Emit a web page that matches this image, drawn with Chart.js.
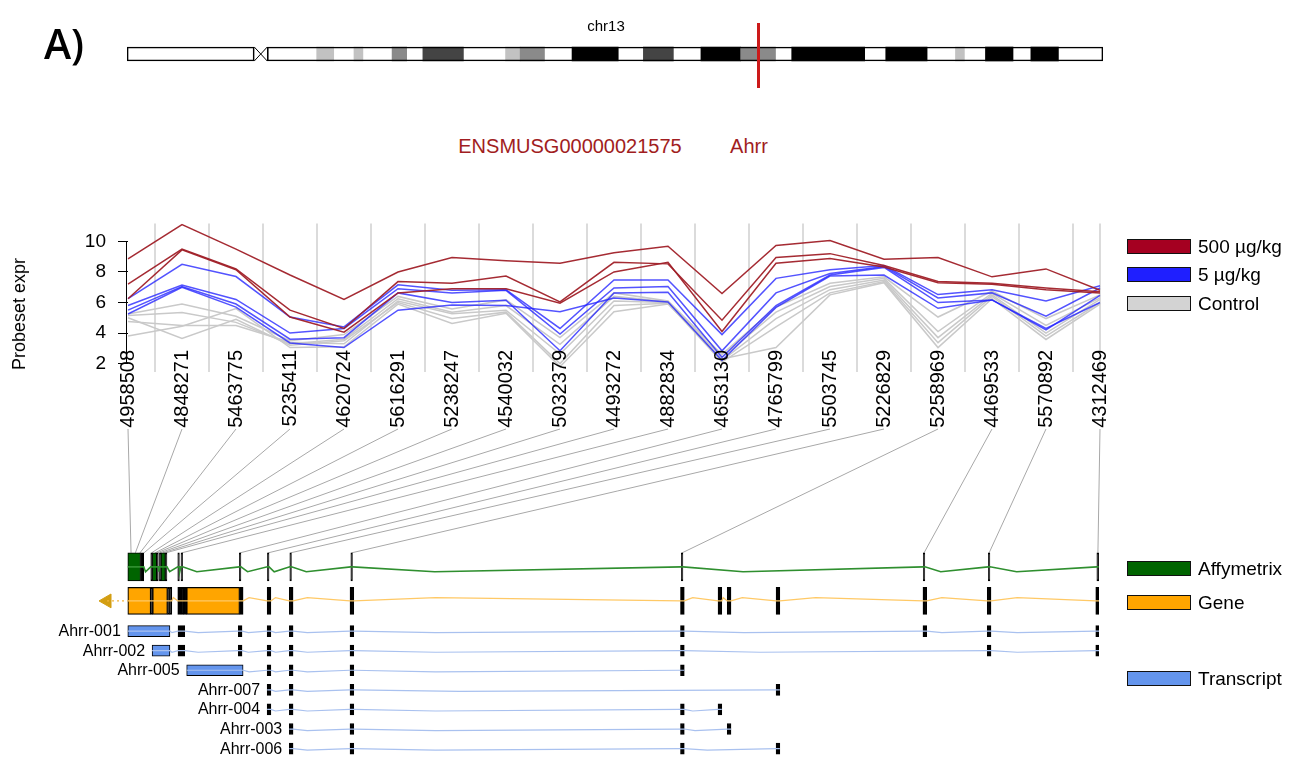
<!DOCTYPE html>
<html>
<head>
<meta charset="utf-8">
<title>Ahrr probeset expression</title>
<script src="https://cdn.jsdelivr.net/npm/chart.js@4.4.1/dist/chart.umd.min.js"></script>
<style>
  html, body { margin:0; padding:0; background:#fff; }
  body { position:relative; width:1304px; height:768px; overflow:hidden;
         font-family:'Liberation Sans', Arial, Helvetica, sans-serif; color:#000; }
  canvas { position:absolute; left:0; }
  .txt { position:absolute; white-space:nowrap; line-height:1; }
  .mid { transform:translate(-50%,-50%); }
  .key { position:absolute; left:1127px; display:flex; align-items:center; font-size:19px; line-height:19px; white-space:nowrap; }
  .key i { display:block; width:62px; height:13px; border:1px solid #111; margin-right:7px; }
  .tx { position:absolute; font-size:16px; line-height:1; white-space:nowrap; transform:translate(-100%,-50%); }
</style>
</head>
<body>
<canvas id="ideo" width="1304" height="100" style="top:0"></canvas>
<canvas id="expr" width="1304" height="240" style="top:200px"></canvas>
<canvas id="tracks" width="1304" height="342" style="top:426px"></canvas>

<div class="txt" style="left:44px;top:15px;font:600 41px 'Open Sans',sans-serif">A)</div>
<div class="txt mid" style="left:606px;top:25px;font-size:15px">chr13</div>
<div class="txt mid" style="left:570px;top:146px;font-size:20px;color:#a11d21">ENSMUSG00000021575</div>
<div class="txt mid" style="left:749px;top:146px;font-size:20px;color:#a11d21">Ahrr</div>
<div class="txt" style="left:19px;top:314px;font-size:18px;transform:translate(-50%,-50%) rotate(-90deg)">Probeset expr</div>

<div class="key" style="top:237px"><i style="background:#a50021"></i>500 µg/kg</div>
<div class="key" style="top:265px"><i style="background:#1f1fff"></i>5 µg/kg</div>
<div class="key" style="top:294px"><i style="background:#d3d3d3"></i>Control</div>
<div class="key" style="top:559px"><i style="background:#006400"></i>Affymetrix</div>
<div class="key" style="top:593px"><i style="background:#ffa500"></i>Gene</div>
<div class="key" style="top:669px"><i style="background:#6495ed"></i>Transcript</div>

<script>
const FONT = "'Liberation Sans', Arial, Helvetica, sans-serif";

/* ────────────────────────────────────────
   DATA
──────────────────────────────────────── */
// chromosome 13 ideogram, Mb
const chrLengthMb = 120.4;
const chrArmsMb   = [[0, 15.7], [17.3, 120.4]];
const chrBandsMb  = [[23.4,25.5],[28.0,29.1],[32.7,34.5],[36.5,41.5],[46.7,48.5],[48.5,51.5],
                     [54.9,60.6],[63.7,67.4],[70.8,75.7],[75.7,80.0],[82.0,91.0],[93.6,98.7],
                     [102.2,103.3],[105.9,109.3],[111.5,114.9]];
const chrBandStain = ['gpos25','gpos25','gpos50','gpos75','gpos25','gpos50',
                      'gpos100','gpos75','gpos100','gpos50','gpos100','gpos100',
                      'gpos25','gpos100','gpos100'];
const ahrrMb = 77.9;

// probesets along the gene
const probesetIds = ['4958508','4848271','5463775','5235411','4620724','5616291','5238247',
                     '4540032','5032379','4493272','4882834','4653130','4765799','5503745',
                     '5226829','5258969','4469533','5570892','4312469'];
const yTicks = [2, 4, 6, 8, 10];

// 500 µg/kg
const red1 = [8.85,11.1,9.5,7.8,6.2,8.0,8.95,8.74,8.57,9.26,9.68,6.59,9.73,10.06,8.84,8.95,7.68,8.2,6.8];
const red2 = [7.2,9.5,8.2,5.5,4.3,7.37,7.26,7.73,6.04,8.63,8.53,4.84,8.95,9.2,8.42,7.37,7.26,6.95,6.7];
const red3 = [6.25,9.45,8.15,5.05,4.06,6.63,6.9,6.9,5.96,8.0,8.63,4.1,8.57,8.88,8.32,7.3,7.2,6.84,6.63];
// 5 µg/kg
const blue1 = [6.25,8.5,7.7,5.05,4.4,7.16,6.8,6.84,4.3,7.47,7.47,3.9,7.58,8.15,8.42,6.52,6.84,6.1,7.1];
const blue2 = [5.8,7.15,6.2,4.0,4.3,6.9,6.63,6.8,3.94,6.95,7.05,2.84,6.63,7.9,8.36,6.3,6.63,5.1,6.95];
const blue3 = [5.5,7.05,5.9,3.6,3.7,6.63,6.0,6.15,2.84,6.63,6.67,2.42,5.8,7.8,8.3,6.0,6.17,4.2,6.46];
const blue4 = [5.25,7.0,5.7,3.35,3.05,5.5,5.83,5.8,5.4,6.3,6.04,2.2,5.68,7.73,7.8,5.62,6.17,4.3,6.0];
// Control
const ctrl1 = [5.25,5.9,5.1,3.5,3.9,6.4,5.58,6.17,3.7,6.63,6.1,2.6,5.7,7.26,7.68,5.05,6.74,4.95,6.5];
const ctrl2 = [5.15,5.35,4.7,3.3,3.6,6.25,5.37,5.8,3.26,6.4,6.05,2.4,5.37,7.05,7.58,4.1,6.6,4.5,6.3];
const ctrl3 = [4.75,4.5,4.5,3.4,3.3,6.1,5.26,5.5,2.63,6.1,6.0,2.2,4.95,6.84,7.47,3.7,6.5,4.0,6.2];
const ctrl4 = [5.0,3.65,4.9,3.2,3.5,6.0,4.95,5.37,2.0,5.8,5.95,2.1,4.4,6.63,7.37,3.37,6.4,3.8,6.0];
const ctrl5 = [3.8,4.45,5.6,3.05,3.1,5.9,4.63,5.3,1.8,5.4,5.9,2.3,3.05,6.5,7.3,3.05,6.25,3.58,5.9];

// gene model, kb from the 3' end of Ahrr
const probeKb = [0.15,0.31,0.48,0.63,0.91,1.04,1.12,1.22,1.33,1.44,2.03,
                 4.19,5.23,6.06,8.32,20.56,29.52,31.93,35.96];
const affyExonKb = [[0.03,0.5],[0.5,0.62],[0.88,0.94],[0.94,1.1],[1.1,1.16],[1.2,1.26],[1.26,1.42],
                    [1.42,1.48],[1.88,1.94],[2.0,2.06],[4.16,4.22],[5.2,5.26],[6.03,6.09],[8.29,8.35],
                    [20.53,20.59],[29.49,29.55],[31.9,31.96],[35.92,35.99]];
const geneExonKb = [[0.03,0.88],[0.88,0.95],[0.95,1.5],[1.5,1.57],[1.57,1.66],[1.88,2.0],[2.0,2.1],
                    [2.1,2.21],[2.21,4.17],[4.17,4.3],[5.19,5.33],[6.01,6.15],[8.26,8.4],[20.5,20.64],
                    [21.89,22.03],[22.23,22.37],[24.04,24.18],[29.48,29.62],[31.86,32.0],[35.88,36.0]];
const transcriptNames = ['Ahrr-001','Ahrr-002','Ahrr-005','Ahrr-007','Ahrr-004','Ahrr-003','Ahrr-006'];
const tx001Kb = [[0.03,1.59],[1.89,2.14],[4.12,4.26],[5.19,5.33],[6.01,6.15],[8.26,8.4],[20.5,20.64],[29.48,29.62],[31.86,32.0],[35.88,36.0]];
const tx002Kb = [[0.93,1.59],[1.89,2.14],[4.12,4.26],[5.19,5.33],[6.01,6.15],[8.26,8.4],[20.5,20.64],[31.86,32.0],[35.88,36.0]];
const tx005Kb = [[2.21,4.3],[5.19,5.33],[6.01,6.15],[8.26,8.4],[20.5,20.64]];
const tx007Kb = [[5.19,5.33],[6.01,6.15],[8.26,8.4],[24.04,24.18]];
const tx004Kb = [[5.19,5.33],[6.01,6.15],[8.26,8.4],[20.5,20.64],[21.89,22.03]];
const tx003Kb = [[6.01,6.15],[8.26,8.4],[20.5,20.64],[22.23,22.37]];
const tx006Kb = [[6.01,6.15],[8.26,8.4],[20.5,20.64],[24.04,24.18]];
const transcriptExonKb = [tx001Kb, tx002Kb, tx005Kb, tx007Kb, tx004Kb, tx003Kb, tx006Kb];

/* ────────────────────────────────────────
   IDEOGRAM
──────────────────────────────────────── */
const stainCol = { gpos25:'#c2c2c2', gpos50:'#8a8a8a', gpos75:'#444444', gpos100:'#000000' };

const ideoMarks = {
  id: 'ideoMarks',
  afterDatasetsDraw(chart) {
    const { ctx, chartArea: a, scales: { x, y } } = chart;
    const cy = y.getPixelForValue(0), h = 7;
    const l = x.getPixelForValue(chrArmsMb[0][1]), r = x.getPixelForValue(chrArmsMb[1][0]);
    ctx.save();
    ctx.strokeStyle = '#000'; ctx.lineWidth = 1;
    ctx.beginPath();
    ctx.moveTo(l, cy - h); ctx.lineTo(r, cy + h);
    ctx.moveTo(l, cy + h); ctx.lineTo(r, cy - h);
    ctx.stroke();
    const m = x.getPixelForValue(ahrrMb);
    ctx.strokeStyle = '#cc1a1a'; ctx.lineWidth = 3;
    ctx.beginPath(); ctx.moveTo(m, a.top); ctx.lineTo(m, a.bottom + 3); ctx.stroke();
    ctx.restore();
  }
};

new Chart(document.getElementById('ideo'), {
  type: 'bar',
  data: {
    labels: ['chr13'],
    datasets: [
      { data: chrArmsMb.map(v => ({ x: v, y: 'chr13' })), backgroundColor: 'rgba(0,0,0,0)',
        borderColor: '#000', borderWidth: 1, borderSkipped: false, barThickness: 14, grouped: false, order: 0 },
      { data: chrBandsMb.map(v => ({ x: v, y: 'chr13' })), backgroundColor: chrBandStain.map(s => stainCol[s]),
        borderWidth: 0, barThickness: 14, grouped: false, order: 1 },
    ],
  },
  options: {
    indexAxis: 'y', responsive: false, animation: false,
    layout: { padding: { left: 127, right: 201, top: 23, bottom: 15 } },
    plugins: { legend: { display: false }, tooltip: { enabled: false } },
    scales: {
      x: { type: 'linear', min: 0, max: chrLengthMb, display: false, offset: false },
      y: { type: 'category', display: false },
    },
  },
  plugins: [ideoMarks],
});

/* ────────────────────────────────────────
   EXPRESSION LINES
──────────────────────────────────────── */
const LABEL_RISE = 22;   // probeset names start a little inside the plot, R style

const exprFrame = {
  id: 'exprFrame',
  beforeDatasetsDraw(chart) {
    const { ctx, chartArea: a, scales: { x, y } } = chart;
    const n = probesetIds.length;
    ctx.save();
    ctx.strokeStyle = '#cfcfcf'; ctx.lineWidth = 1.5;
    for (let i = 0; i < n; i++) {
      const px = i < n - 1 ? (x.getPixelForValue(i) + x.getPixelForValue(i + 1)) / 2 : x.getPixelForValue(i);
      ctx.beginPath(); ctx.moveTo(px, a.top); ctx.lineTo(px, a.bottom); ctx.stroke();
    }
    ctx.strokeStyle = '#000'; ctx.lineWidth = 1;
    ctx.beginPath();
    ctx.moveTo(a.left - 1.5, y.getPixelForValue(yTicks[yTicks.length - 1]));
    ctx.lineTo(a.left - 1.5, y.getPixelForValue(yTicks[0]));
    ctx.stroke();
    ctx.restore();
  },
  afterDraw(chart) {
    // vertical probeset names, unclipped so they can reach into the plot
    const { ctx, chartArea: a, scales: { x } } = chart;
    ctx.save();
    ctx.font = `20px ${FONT}`;
    ctx.fillStyle = '#000';
    ctx.textAlign = 'right';
    ctx.textBaseline = 'middle';
    x.getLabels().forEach((lab, i) => {
      ctx.save();
      ctx.translate(x.getPixelForValue(i), a.bottom - LABEL_RISE);
      ctx.rotate(-Math.PI / 2);
      ctx.fillText(lab, 0, 0);
      ctx.restore();
    });
    ctx.restore();
  }
};

const RED = 'rgba(160,32,40,0.95)', BLUE = 'rgba(35,35,255,0.78)', GREY = '#c9c9c9';
const series = [
  [red1, RED], [red2, RED], [red3, RED],
  [blue1, BLUE], [blue2, BLUE], [blue3, BLUE], [blue4, BLUE],
  [ctrl1, GREY], [ctrl2, GREY], [ctrl3, GREY], [ctrl4, GREY], [ctrl5, GREY],
];

const exprChart = new Chart(document.getElementById('expr'), {
  type: 'line',
  data: {
    labels: probesetIds,
    datasets: series.map(([d, c]) => ({ data: d, borderColor: c, borderWidth: 1.5, pointRadius: 0, tension: 0 })),
  },
  options: {
    responsive: false, animation: false,
    layout: { padding: { top: 18, right: 204, left: 0, bottom: 0 } },
    plugins: { legend: { display: false }, tooltip: { enabled: false } },
    scales: {
      x: {
        type: 'category', offset: false,
        grid: { display: false, drawTicks: false }, border: { display: false },
        ticks: { display: false },
        afterFit: s => { s.height = 68; },
      },
      y: {
        min: 1.45, max: 11.18,
        border: { display: false },
        grid: { drawOnChartArea: false, drawTicks: true, tickLength: 10, color: '#000', lineWidth: 1 },
        ticks: { color: '#000', padding: 12, font: { size: 19, family: FONT } },
        afterBuildTicks: s => { s.ticks = yTicks.map(v => ({ value: v })); },
        afterFit: s => { s.width = 128; },
      },
    },
  },
  plugins: [exprFrame],
});

/* ────────────────────────────────────────
   GENE TRACKS
──────────────────────────────────────── */
const TRACKS_TOP = 426, LABEL_BOTTOM = 429;
const ROW_AFFY = 0, ROW_GENE = 1.74, ROW_TX0 = 3.28;
const txRow = i => ROW_TX0 + i;

// intron connector with a small hat a quarter of the way along
function hatLine(exons, row, bump) {
  const pts = [];
  exons.forEach((e, i) => {
    pts.push({ x: e[0], y: row }, { x: e[1], y: row });
    const nx = exons[i + 1];
    if (nx && nx[0] > e[1]) pts.push({ x: e[1] + (nx[0] - e[1]) * 0.25, y: row + bump });
  });
  return pts;
}

// narrow exons read as solid black marks
const narrower = w => c => c.raw && (c.raw.x[1] - c.raw.x[0]) < w;

const lineSet = (data, color, width, extra = {}) =>
  ({ type: 'line', data, borderColor: color, borderWidth: width, pointRadius: 0, tension: 0, order: 0, ...extra });
const barSet = (data, thick, fill, bw, smallW) => {
  const small = narrower(smallW);
  return { type: 'bar', indexAxis: 'y', grouped: false, barThickness: thick, data,
           backgroundColor: c => (small(c) ? '#000' : fill),
           borderColor: '#000', borderWidth: bw, borderSkipped: false, order: 1 };
};

const strandKb = geneExonKb[0][0] - 0.77;
const trackSets = [
  lineSet(hatLine(affyExonKb, ROW_AFFY, 0.25), '#2f8f2f', 1.6),
  lineSet(hatLine(geneExonKb, ROW_GENE, -0.17), '#ffc966', 1.3),
  ...transcriptExonKb.map((ex, i) => lineSet(hatLine(ex, txRow(i), 0.08), '#a9c1ef', 1.2)),
  lineSet([{ x: strandKb, y: ROW_GENE }, { x: geneExonKb[0][0], y: ROW_GENE }], '#f2b33d', 1.3, { borderDash: [2, 3] }),
  { type: 'scatter', data: [{ x: strandKb, y: ROW_GENE }], pointStyle: 'triangle', pointRotation: -90,
    pointRadius: 8, pointBackgroundColor: '#d39e12', pointBorderColor: '#d39e12', order: 0 },
  barSet(affyExonKb.map(e => ({ x: e, y: ROW_AFFY })), 28, '#006400', 1, 0.14),
  barSet(geneExonKb.map(e => ({ x: e, y: ROW_GENE })), 27, '#ffa500', 1.2, 0.3),
  barSet(transcriptExonKb.flatMap((ex, i) => ex.map(e => ({ x: e, y: txRow(i) }))), 11, '#6495ed', 1, 0.3),
];

const connectors = {
  id: 'connectors',
  beforeDatasetsDraw(chart) {
    const { ctx, scales: { x, y } } = chart;
    const ex = exprChart.scales.x;
    const top = LABEL_BOTTOM - TRACKS_TOP;
    const bot = y.getPixelForValue(ROW_AFFY) - 14;
    ctx.save();
    ctx.strokeStyle = '#a8a8a8'; ctx.lineWidth = 1;
    probeKb.forEach((p, i) => {
      ctx.beginPath(); ctx.moveTo(ex.getPixelForValue(i), top); ctx.lineTo(x.getPixelForValue(p), bot); ctx.stroke();
    });
    ctx.restore();
  }
};

const tracksChart = new Chart(document.getElementById('tracks'), {
  type: 'bar',
  data: { datasets: trackSets },
  options: {
    responsive: false, animation: false,
    layout: { padding: { left: 94.6, right: 205, top: 114, bottom: 0 } },
    plugins: { legend: { display: false }, tooltip: { enabled: false } },
    scales: {
      x: { type: 'linear', min: -1.2, max: 36, display: false, offset: false },
      y: { type: 'linear', min: -1.37, max: 9.81, reverse: true, display: false, offset: false },
    },
  },
  plugins: [connectors],
});

// transcript names, right-aligned before each first exon
const tX = tracksChart.scales.x, tY = tracksChart.scales.y;
transcriptNames.forEach((name, i) => {
  const el = document.createElement('div');
  el.className = 'tx';
  el.textContent = name;
  el.style.left = (tX.getPixelForValue(transcriptExonKb[i][0][0]) - 7) + 'px';
  el.style.top  = (TRACKS_TOP + tY.getPixelForValue(txRow(i))) + 'px';
  document.body.appendChild(el);
});
</script>
</body>
</html>
